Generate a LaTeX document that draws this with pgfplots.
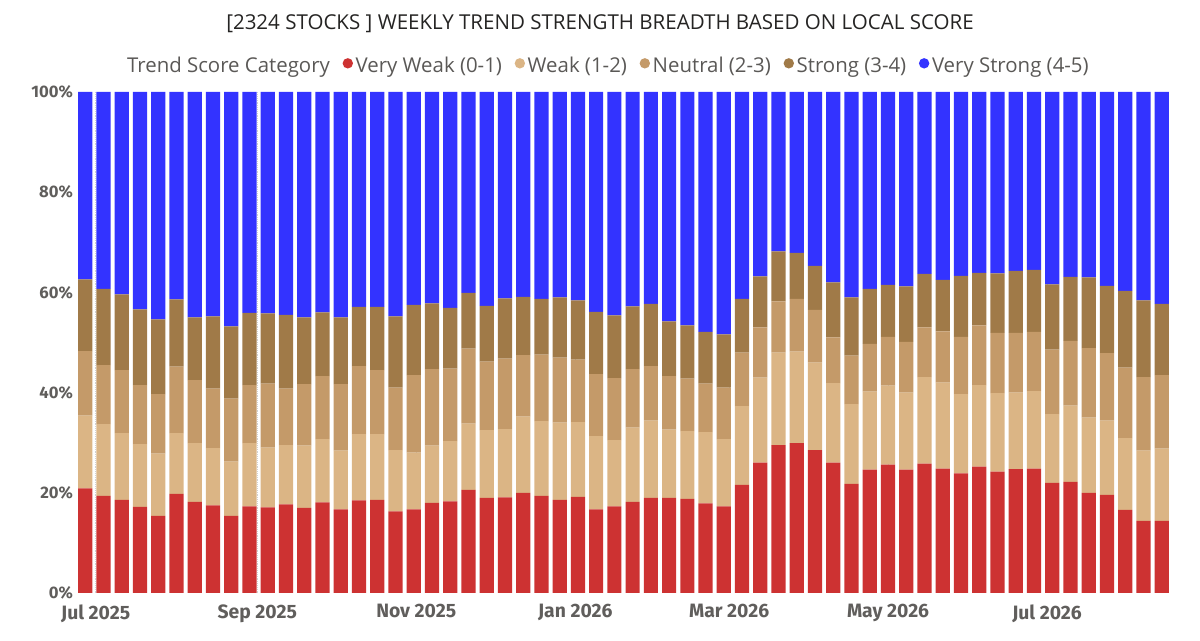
\documentclass[border=0pt]{standalone}
\usepackage{pgfplots}
\pgfplotsset{compat=1.18}
\usepackage{pgfplotstable}
\usepackage{fontspec}
\setmainfont{Open Sans}
\newfontfamily\tickfont{Fira Sans}
\definecolor{cVW}{HTML}{CD3232}
\definecolor{cW}{HTML}{DBB585}
\definecolor{cN}{HTML}{C49A69}
\definecolor{cS}{HTML}{A07A48}
\definecolor{cVS}{HTML}{3333FF}
\definecolor{txtgrey}{HTML}{5A5856}
\definecolor{tickgrey}{HTML}{605E5C}
\definecolor{titlegrey}{HTML}{252423}

\pgfplotstableread{
x  vw   w    n    s    vs
0  20.9 14.5 12.9 14.3 37.4
1  19.4 14.3 11.8 15.2 39.3
2  18.6 13.3 12.6 15.1 40.4
3  17.2 12.5 11.8 15.1 43.4
4  15.4 12.4 11.9 14.9 45.4
5  19.8 12.1 13.3 13.4 41.4
6  18.2 11.7 12.6 12.5 45.0
7  17.5 11.4 11.9 14.4 44.8
8  15.4 10.8 12.6 14.4 46.8
9  17.3 12.6 11.6 14.4 44.1
10 17.1 11.9 12.8 14.0 44.2
11 17.7 11.8 11.3 14.7 44.5
12 17.0 12.4 12.3 13.3 45.0
13 18.1 12.6 12.6 12.7 44.0
14 16.7 11.7 13.3 13.3 45.0
15 18.5 13.2 13.6 11.8 42.9
16 18.6 13.1 12.8 12.6 42.9
17 16.3 12.2 12.5 14.2 44.8
18 16.7 11.3 15.5 14.0 42.5
19 18.0 11.4 15.3 13.1 42.2
20 18.3 12.0 14.5 12.1 43.1
21 20.6 13.2 15.0 11.1 40.1
22 19.0 13.5 13.7 11.1 42.7
23 19.1 13.6 14.1 12.0 41.2
24 20.0 15.2 12.3 11.6 40.9
25 19.4 14.9 13.3 11.1 41.3
26 18.6 15.4 13.0 12.0 41.0
27 19.2 14.9 12.5 11.8 41.6
28 16.7 14.6 12.4 12.4 43.9
29 17.3 13.2 12.4 12.5 44.6
30 18.2 14.8 11.7 12.5 42.8
31 19.0 15.4 10.9 12.4 42.3
32 19.0 13.6 10.7 10.9 45.8
33 18.8 13.5 10.5 10.6 46.6
34 17.9 14.2  9.7 10.3 47.9
35 17.3 13.4 10.3 10.6 48.4
36 21.6 15.7 10.7 10.7 41.3
37 26.0 17.0 10.0 10.2 36.8
38 29.5 18.5 10.2 10.0 31.8
39 29.9 18.3 10.5  9.2 32.1
40 28.5 17.5 10.5  8.8 34.7
41 26.0 15.9  9.1 11.0 38.0
42 21.8 15.9  9.7 11.6 41.0
43 24.6 15.6  9.5 11.0 39.3
44 25.6 15.8  9.7 10.4 38.5
45 24.6 15.4 10.1 11.1 38.8
46 25.8 17.3  9.9 10.7 36.3
47 24.8 17.2 10.2 10.3 37.5
48 23.9 15.8 11.4 12.2 36.7
49 25.2 16.3 11.9 10.5 36.1
50 24.2 15.7 12.0 11.9 36.2
51 24.7 15.3 11.9 12.4 35.7
52 24.8 15.5 11.8 12.4 35.5
53 22.0 13.7 12.9 13.0 38.4
54 22.2 15.2 12.9 12.8 36.9
55 20.0 15.0 13.9 14.1 37.0
56 19.6 14.8 13.5 13.4 38.7
57 16.6 14.3 14.1 15.3 39.7
58 14.4 14.0 14.7 15.3 41.6
59 14.4 14.4 14.7 14.2 42.3
}\datatable

\begin{document}
\begin{tikzpicture}
\useasboundingbox (-57.75pt,-36pt) rectangle (842.25pt,444.75pt);
\begin{axis}[
  scale only axis,
  width=819.75pt, height=375.75pt,
  ybar stacked,
  bar width=0.78,
  xmin=-0.45, xmax=59.45,
  ymin=0, ymax=100,
  axis line style={draw=none},
  tick style={draw=none},
  xtick={0.571,9.43,18.14,26.86,35.29,44.0,52.71},
  xticklabels={Jul 2025,Sep 2025,Nov 2025,Jan 2026,Mar 2026,May 2026,Jul 2026},
  ytick={0,20,40,60,80,100},
  yticklabels={0\%,20\%,40\%,60\%,80\%,100\%},
  xmajorgrids,
  grid style={densely dotted, draw=black!18, line width=0.6pt},
  yticklabel style={font=\tickfont\bfseries\fontsize{12.5pt}{14pt}\selectfont, text=tickgrey, xshift=0.5pt},
  xticklabel style={font=\tickfont\bfseries\fontsize{14.5pt}{16pt}\selectfont, text=tickgrey, yshift=-5pt},
  legend style={
    at={(0.4955,1.0519)}, anchor=center,
    draw=none, fill=none,
    legend columns=-1,
    font=\fontsize{15.3pt}{17pt}\selectfont\color{txtgrey},
    /tikz/every even column/.append style={column sep=7.5pt},
  },
  legend image code/.code={\fill (0.15em,0.2em) circle (3.9pt);},
]
\addlegendimage{empty legend}
\addlegendentry{\hspace{-16pt}Trend Score Category}
\addplot[fill=cVW, draw=none] table[x=x,y=vw] {\datatable};
\addlegendentry{Very Weak (0-1)}
\addplot[fill=cW, draw=none] table[x=x,y=w] {\datatable};
\addlegendentry{Weak (1-2)}
\addplot[fill=cN, draw=none] table[x=x,y=n] {\datatable};
\addlegendentry{Neutral (2-3)}
\addplot[fill=cS, draw=none] table[x=x,y=s] {\datatable};
\addlegendentry{Strong (3-4)}
\addplot[fill=cVS, draw=none] table[x=x,y=vs] {\datatable};
\addlegendentry{Very Strong (4-5)}
\end{axis}
\node[text=titlegrey, font=\fontsize{15.4pt}{17pt}\selectfont] at (392.25pt,427pt) {[2324 STOCKS ] WEEKLY TREND STRENGTH BREADTH BASED ON LOCAL SCORE};
\end{tikzpicture}
\end{document}
